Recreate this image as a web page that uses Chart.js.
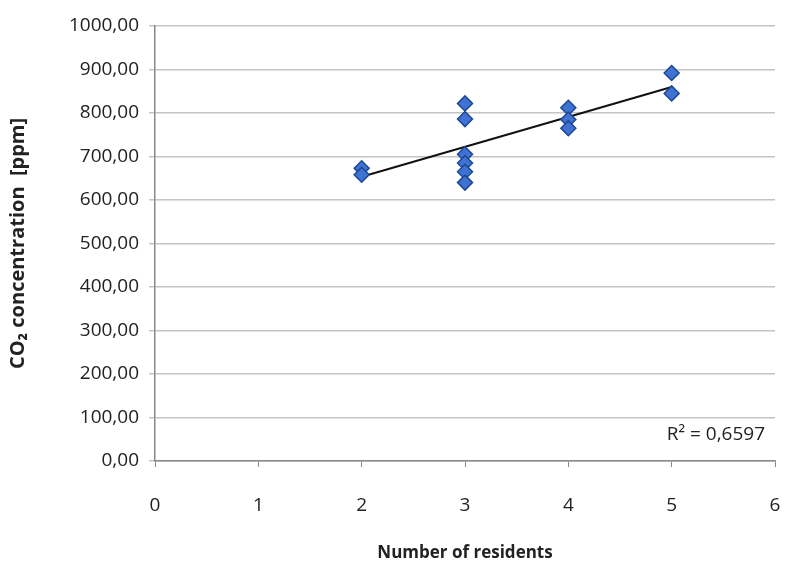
<!DOCTYPE html>
<html lang="en">
<head>
<meta charset="UTF-8">
<title>CO2 vs residents</title>
<script src="https://cdn.jsdelivr.net/npm/chart.js"></script>
<style>
    html, body { margin: 0; padding: 0; background: #ffffff; }
    #wrap { width: 791px; height: 575px; }
</style>
</head>
<body>
<div id="wrap"><canvas id="chart" width="791" height="575"></canvas></div>
<script>
// measured points: number of residents vs CO2 concentration
const residents = [2, 2, 3, 3, 3, 3, 3, 3, 4, 4, 4, 5, 5];
const co2 = [673, 658, 822, 786, 705, 685, 665, 640, 812, 785, 765, 892, 845];
const yTicks = [0, 100, 200, 300, 400, 500, 600, 700, 800, 900, 1000];
const xTicks = [0, 1, 2, 3, 4, 5, 6];
const r2Label = 'R² = 0,6597';

// least squares trend line over the data range
const n = residents.length;
const mx = residents.reduce((a, b) => a + b, 0) / n;
const my = co2.reduce((a, b) => a + b, 0) / n;
let sxy = 0, sxx = 0;
for (let i = 0; i < n; i++) {
    sxy += (residents[i] - mx) * (co2[i] - my);
    sxx += (residents[i] - mx) * (residents[i] - mx);
}
const slope = sxy / sxx;
const icpt = my - slope * mx;
const xMin = Math.min(...residents), xMax = Math.max(...residents);
const trend = [{ x: xMin, y: icpt + slope * xMin }, { x: xMax, y: icpt + slope * xMax }];

const fontFam = "'Open Sans', 'Liberation Sans', sans-serif";

const r2Plugin = {
    id: 'r2',
    afterDraw(chart) {
        const { ctx, chartArea } = chart;
        ctx.save();
        ctx.font = '19px ' + fontFam;
        ctx.fillStyle = '#222';
        ctx.textAlign = 'right';
        ctx.textBaseline = 'middle';
        ctx.fillText(r2Label, chartArea.right - 10, chartArea.bottom - 26);
        ctx.restore();
    }
};

new Chart(document.getElementById('chart'), {
    type: 'scatter',
    data: {
        datasets: [{
            label: 'CO2',
            data: residents.map((x, i) => ({ x: x, y: co2[i] })),
            pointStyle: 'rectRot',
            pointRadius: 7.5,
            backgroundColor: '#3f72d2',
            borderColor: '#1d4893',
            borderWidth: 1.5
        }, {
            label: 'Trend',
            type: 'line',
            data: trend,
            borderColor: '#111',
            borderWidth: 2,
            pointRadius: 0,
            fill: false
        }]
    },
    options: {
        responsive: false,
        animation: false,
        layout: { padding: { top: 26, right: 16, left: 2, bottom: 0 } },
        plugins: { legend: { display: false }, tooltip: { enabled: false } },
        scales: {
            x: {
                type: 'linear',
                min: 0, max: 6,
                afterBuildTicks: s => { s.ticks = xTicks.map(v => ({ value: v })); },
                afterFit: s => { s.height = 114; s.paddingRight = 0; },
                grid: { drawOnChartArea: false, color: '#888', tickLength: 6 },
                border: { color: '#888', width: 1.5 },
                ticks: { color: '#222', font: { size: 19, family: fontFam }, padding: 27 },
                title: { display: true, text: 'Number of residents', color: '#222',
                         font: { size: 17, weight: 'bold', family: fontFam }, padding: { top: 4, bottom: 12 } }
            },
            y: {
                min: 0, max: 1000,
                afterBuildTicks: s => { s.ticks = yTicks.map(v => ({ value: v })); },
                afterFit: s => { s.width = 153; },
                grid: { color: '#c4c4c4', lineWidth: 1.5, tickLength: 6 },
                border: { color: '#888', width: 1.5 },
                ticks: { color: '#222', font: { size: 19, family: fontFam }, padding: 10,
                         callback: v => v.toFixed(2).replace('.', ',') },
                title: { display: true, text: 'CO₂ concentration  [ppm]', color: '#222',
                         font: { size: 20, weight: 'bold', family: fontFam }, padding: { top: 4, bottom: 6 } }
            }
        }
    },
    plugins: [r2Plugin]
});
</script>
</body>
</html>
